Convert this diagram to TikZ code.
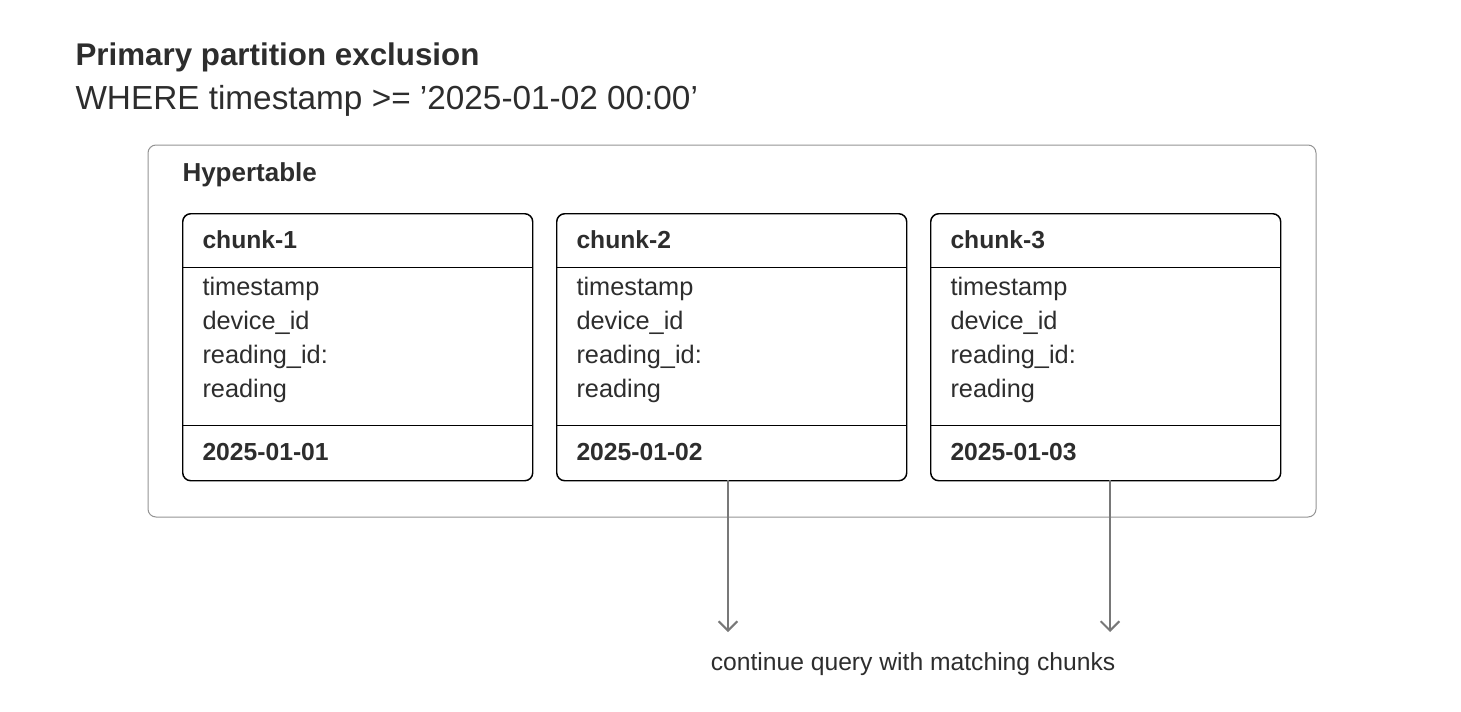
\documentclass[tikz,border=0pt]{standalone}
\usepackage{fontspec}
\setmainfont{Liberation Sans}
\usetikzlibrary{arrows.meta}
\definecolor{mygray}{RGB}{120,120,120}
\definecolor{mytext}{RGB}{45,45,45}
\tikzset{every picture/.style={line width=0.75pt}}

\begin{document}
\begin{tikzpicture}[x=0.75pt,y=0.75pt,yscale=-1,xscale=1,
  chunk/.style={draw=black,rounded corners=6pt,line width=1.1pt,minimum width=262.5pt,minimum height=200.25pt,inner sep=0pt},
  txt/.style={anchor=west,inner sep=0pt,text=mytext,font=\fontsize{19}{22}\selectfont},
  bold/.style={txt,font=\fontsize{18.5}{22}\selectfont\bfseries},
  arr/.style={draw=mygray,line width=1.5pt,-{Straight Barb[length=7pt,width=14pt]}}]
\useasboundingbox (0,0) rectangle (1461,711);

% title
\node[anchor=west,inner sep=0pt,text=mytext,font=\fontsize{23.5}{27}\selectfont\bfseries] (title) at (75,57) {Primary partition exclusion};
\node[anchor=west,inner sep=0pt,text=mytext,font=\fontsize{25}{29}\selectfont] (where) at (75,101) {WHERE timestamp >= ’2025-01-02 00:00’};

% hypertable
\draw[draw=mygray!80,rounded corners=6pt] (148,145) rectangle (1316,517);
\node[bold,font=\fontsize{19.5}{22}\selectfont\bfseries] (hyper) at (182,175) {Hypertable};

% chunks
\foreach \i/\x in {1/182,2/556,3/930}{
  \node[chunk,anchor=north west] (c\i) at (\x,213) {};
  \draw (\x,267) -- (\x+350,267);
  \draw (\x,425) -- (\x+350,425);
  \node[bold] (h\i) at (\x+20,240) {chunk-\i};
  \node[txt] (t\i) at (\x+20,289) {timestamp};
  \node[txt] (d\i) at (\x+20,323) {device\_id};
  \node[txt] (r\i) at (\x+20,357) {reading\_id:};
  \node[txt] (v\i) at (\x+20,391) {reading};
  \node[bold] (f\i) at (\x+20,452) {2025-01-0\i};
}

% arrows
\coordinate (a2) at (728,480);
\coordinate (a3) at (1110,480);
\coordinate (e2) at (728,632);
\coordinate (e3) at (1110,632);
\draw[arr] (a2) -- (e2);
\draw[arr] (a3) -- (e3);
\node[inner sep=0pt,text=mytext,font=\fontsize{18.5}{22}\selectfont] (cont) at (913,664) {continue query with matching chunks};
\end{tikzpicture}
\end{document}
